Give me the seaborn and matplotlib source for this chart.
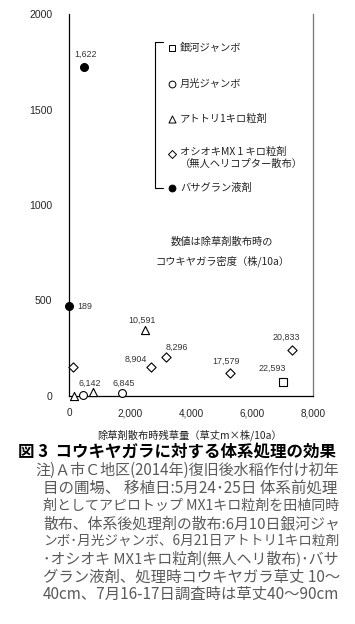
import numpy as np
import pandas as pd
import matplotlib
matplotlib.use("Agg")
import matplotlib.pyplot as plt
import seaborn as sns

# values
ginga_x = [7000]
ginga_y = [73]
ginga_lab = ["22,593"]

gekko_x = [460, 1740]
gekko_y = [5, 15]
gekko_lab = ["", "6,845"]

atotori_x = [160, 780, 2490]
atotori_y = [0, 20, 345]
atotori_lab = ["", "6,142", "10,591"]

oshioki_x = [140, 2690, 3180, 5280, 7300]
oshioki_y = [153, 152, 204, 120, 240]
oshioki_lab = ["", "8,904", "8,296", "17,579", "20,833"]

basa_x = [0, 500]
basa_y = [471, 1725]
basa_lab = ["189", "1,622"]

groups = ["銀河ジャンボ", "月光ジャンボ", "アトトリ1キロ粒剤", "オシオキMX 1 キロ粒剤", "バサグラン液剤"]
markers = {groups[0]: "s", groups[1]: "o", groups[2]: "^", groups[3]: "D", groups[4]: "o"}
faces = {groups[0]: "white", groups[1]: "white", groups[2]: "white", groups[3]: "white", groups[4]: "black"}
sizes = {groups[0]: 28, groups[1]: 32, groups[2]: 34, groups[3]: 22, groups[4]: 32}

# label offsets in pixels (dx, dy)
lab_off = {"22,593": (-10, 14), "6,845": (2, 10), "6,142": (-3, 9), "10,591": (-3, 10),
           "8,904": (-15, 8), "8,296": (11, 10), "17,579": (-4, 12), "20,833": (-5, 13),
           "189": (16, 0), "1,622": (1, 12)}

df = pd.concat([
    pd.DataFrame({"x": ginga_x, "y": ginga_y, "lab": ginga_lab, "g": groups[0]}),
    pd.DataFrame({"x": gekko_x, "y": gekko_y, "lab": gekko_lab, "g": groups[1]}),
    pd.DataFrame({"x": atotori_x, "y": atotori_y, "lab": atotori_lab, "g": groups[2]}),
    pd.DataFrame({"x": oshioki_x, "y": oshioki_y, "lab": oshioki_lab, "g": groups[3]}),
    pd.DataFrame({"x": basa_x, "y": basa_y, "lab": basa_lab, "g": groups[4]}),
], ignore_index=True)

sns.set_style("white")
plt.rcParams["font.family"] = ["Noto Sans CJK JP", "DejaVu Sans"]

fig = plt.figure(figsize=(3.55, 6.24), dpi=100)
ax = fig.add_axes([69 / 355, 228 / 624, 244 / 355, 382 / 624])

for g in groups:
    sub = df[df["g"] == g]
    sns.scatterplot(data=sub, x="x", y="y", ax=ax, marker=markers[g], s=sizes[g],
                    color=faces[g], edgecolor="black", linewidth=0.8, clip_on=False, zorder=3)

for _, r in df.iterrows():
    if r["lab"]:
        dx, dy = lab_off[r["lab"]]
        ax.annotate(r["lab"], (r["x"], r["y"]), xytext=(dx, dy), textcoords="offset pixels",
                    ha="center", va="center", fontsize=6.4, color="#333333",
                    family="Liberation Sans")

ax.set_xlim(0, 8000)
ax.set_ylim(0, 2000)
ax.set_xticks([0, 2000, 4000, 6000, 8000])
ax.set_xticklabels(["0", "2,000", "4,000", "6,000", "8,000"], family="Liberation Sans", fontsize=7.2)
ax.set_yticks([0, 500, 1000, 1500, 2000])
ax.set_yticklabels(["0", "500", "1000", "1500", "2000"], family="Liberation Sans", fontsize=7.6)
ax.tick_params(axis="x", direction="in", length=4, width=0.8, pad=9)
ax.tick_params(axis="y", direction="out", length=3, width=0.8, pad=9)
ax.set_xlabel("")
ax.set_ylabel("")
for s in ["left", "bottom", "right"]:
    ax.spines[s].set_color("black")
    ax.spines[s].set_linewidth(0.9)
ax.spines["top"].set_visible(False)
ax.spines["right"].set_color("#777777")

# legend, drawn by hand with a bracket
leg_rows = [0.911, 0.817, 0.725, 0.634, 0.545]
leg_text = ["銀河ジャンボ", "月光ジャンボ", "アトトリ1キロ粒剤", "オシオキMX 1 キロ粒剤\n（無人ヘリコプター散布）", "バサグラン液剤"]
for g, yy, t in zip(groups, leg_rows, leg_text):
    ax.scatter([0.422], [yy], marker=markers[g], s=sizes[g] * 0.75, facecolor=faces[g],
               edgecolor="black", linewidth=0.7, transform=ax.transAxes, clip_on=False)
    ax.text(0.455, yy + (0.018 if "\n" in t else 0), t, transform=ax.transAxes, fontsize=7.4,
            va="top" if "\n" in t else "center", color="#222222", linespacing=1.25)
ax.plot([0.385, 0.352, 0.352, 0.385], [0.927, 0.927, 0.545, 0.545], color="black",
        lw=0.8, transform=ax.transAxes, clip_on=False)

ax.text(0.627, 0.403, "数値は除草剤散布時の", transform=ax.transAxes, fontsize=7.4,
        ha="center", va="center", color="#222222")
ax.text(0.627, 0.353, "コウキヤガラ密度（株/10a）", transform=ax.transAxes, fontsize=7.4,
        ha="center", va="center", color="#222222")

fig.text(97 / 355, 1 - 435 / 624, "除草剤散布時残草量（草丈m×株/10a）", fontsize=7.4,
         ha="left", va="center", color="#222222")
fig.text(18 / 355, 1 - 452 / 624, "図 3  コウキヤガラに対する体系処理の効果", fontsize=11.9,
         ha="left", va="center", fontweight="bold", color="black")

notes = [
    "注)Ａ市Ｃ地区(2014年)復旧後水稲作付け初年",
    "目の圃場、 移植日:5月24･25日 体系前処理",
    "剤としてアピロトップ MX1キロ粒剤を田植同時",
    "散布、体系後処理剤の散布:6月10日銀河ジャ",
    "ンボ･月光ジャンボ、6月21日アトトリ1キロ粒剤",
    "･オシオキ MX1キロ粒剤(無人ヘリ散布)･バサ",
    "グラン液剤、処理時コウキヤガラ草丈 10～",
    "40cm、7月16-17日調査時は草丈40～90cm",
]
# fit each note line to the justified width of the original
renderer = fig.canvas.get_renderer()
for i, line in enumerate(notes):
    x0 = 35 if i == 0 else 43
    t = fig.text(x0 / 355, 1 - (470 + i * 17.8) / 624, line, fontsize=10.3, ha="left",
                 va="center", color="#5a5a5a")
    w = t.get_window_extent(renderer).width
    target = 339 - x0
    t.set_fontsize(min(11.2, 10.3 * target / w))

fig.savefig("out.png", dpi=100, facecolor="white")
